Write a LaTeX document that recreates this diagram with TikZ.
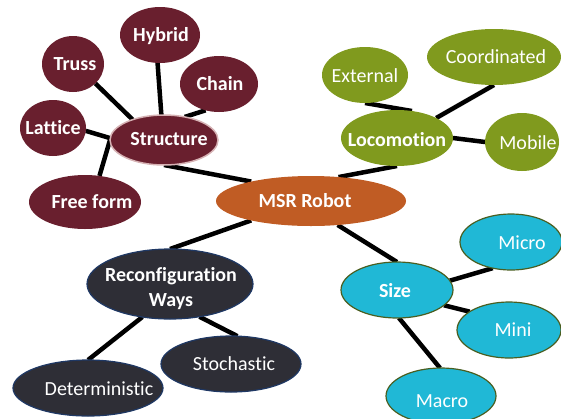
\documentclass[tikz,border=0pt]{standalone}
\usepackage{fontspec}
\setmainfont[Ligatures=NoCommon]{Carlito}
\usetikzlibrary{shapes.geometric}
\definecolor{strucred}{RGB}{105,31,46}
\definecolor{strucrim}{RGB}{214,178,180}
\definecolor{robotorange}{RGB}{192,92,36}
\definecolor{locogreen}{RGB}{128,154,30}
\definecolor{reconfdark}{RGB}{46,46,54}
\definecolor{reconfrim}{RGB}{31,56,100}
\definecolor{sizecyan}{RGB}{32,184,214}
\definecolor{sizerim}{RGB}{74,94,32}
\pgfdeclarelayer{background}
\pgfsetlayers{background,main}
\begin{document}
\begin{tikzpicture}[x=1pt,y=-1pt,
  blob/.style={ellipse,inner sep=0pt,outer sep=0pt},
  sz/.style 2 args={minimum width=#1pt,minimum height=#2pt},
  redblob/.style={blob,fill=strucred},
  orangeblob/.style={blob,fill=robotorange},
  greenblob/.style={blob,fill=locogreen},
  darkblob/.style={blob,fill=reconfdark,draw=reconfrim,line width=1.2pt},
  cyanblob/.style={blob,fill=sizecyan,draw=sizerim,line width=1.2pt},
  txt/.style={text=white,inner sep=0pt,text height=12.9pt,text depth=0pt,
    font=\fontsize{20}{25}\selectfont},
  btxt/.style={txt,font=\fontsize{20}{25}\selectfont\bfseries},
  link/.style={draw=black,line width=4.5pt}]
\useasboundingbox (0,0) rectangle (561,418);

% Structure branch
\node[redblob,sz={62}{56}] (truss) at (73,64) {};
\node[redblob,sz={80}{56}] (hybrid) at (160,35) {};
\node[redblob,sz={78}{56}] (chain) at (219,84) {};
\node[redblob,sz={66}{56}] (lattice) at (53,128) {};
\node[redblob,sz={108}{50},draw=strucrim,line width=1.5pt] (structure) at (164,140) {};
\node[redblob,sz={112}{54}] (freeform) at (85,202) {};

% Root
\node[orangeblob,sz={190}{50}] (msr) at (311,201) {};

% Locomotion branch
\node[greenblob,sz={86}{56}] (external) at (365,75) {};
\node[greenblob,sz={134}{56}] (coordinated) at (494,57) {};
\node[greenblob,sz={112}{56}] (locomotion) at (397,138) {};
\node[greenblob,sz={74}{58}] (mobile) at (522,142) {};

% Reconfiguration branch
\node[darkblob,sz={166}{70}] (reconfig) at (170,284) {};
\node[darkblob,sz={140}{56}] (stochastic) at (231,364) {};
\node[darkblob,sz={150}{56}] (deterministic) at (88,388) {};

% Size branch
\node[cyanblob,sz={112}{56}] (size) at (397,290) {};
\node[cyanblob,sz={102}{56}] (micro) at (511,242) {};
\node[cyanblob,sz={104}{56}] (mini) at (509,330) {};
\node[cyanblob,sz={110}{56}] (macro) at (441,396) {};

% Labels
\node[btxt] (truss-t) at (75,64) {Truss};
\node[btxt] (hybrid-t) at (161,35) {Hybrid};
\node[btxt] (chain-t) at (220,84) {Chain};
\node[btxt] (lattice-t) at (53,128) {Lattice};
\node[btxt] (structure-t) at (169,139) {Structure};
\node[btxt] (freeform-t) at (92,202) {Free form};
\node[btxt] (msr-t) at (305,201) {MSR Robot};
\node[txt] (external-t) at (365,76) {External};
\node[txt] (coordinated-t) at (496,57) {Coordinated};
\node[btxt] (locomotion-t) at (397,140) {Locomotion};
\node[txt] (mobile-t) at (528,143) {Mobile};
\node[text=white,inner sep=0pt,align=center,font=\fontsize{20}{25}\selectfont\bfseries]
  (reconfig-t) at (171,289) {Reconfiguration\\Ways};
\node[txt] (stochastic-t) at (234,364) {Stochastic};
\node[txt] (deterministic-t) at (99,389) {Deterministic};
\node[btxt] (size-t) at (395,291) {Size};
\node[txt] (micro-t) at (522,243) {Micro};
\node[txt] (mini-t) at (513,330) {Mini};
\node[txt] (macro-t) at (442,401) {Macro};

% Connectors, kept behind the bubbles
\begin{pgfonlayer}{background}
\draw[link] (structure.-90) -- (msr.162);
\draw[link] (truss.-41) -- (structure.147);
\draw[link] (hybrid.-95) -- (structure.96);
\draw[link] (chain.-117) -- (structure.48);
\draw[link] (lattice.-5) -- (structure.178);
\draw[link] (freeform.61) -- (structure.180);
\draw[link] (msr.41) -- (locomotion.-90);
\draw[link] (external.-90) -- (locomotion.61);
\draw[link] (coordinated.-90) -- (locomotion.27);
\draw[link] (locomotion.0) -- (mobile.180);
\draw[link] (msr.198) -- (reconfig.90);
\draw[link] (reconfig.230) -- (deterministic.90);
\draw[link] (reconfig.-48) -- (stochastic.77);
\draw[link] (msr.-42) -- (size.90);
\draw[link] (size.10) -- (micro.235);
\draw[link] (size.-18) -- (mini.155);
\draw[link] (size.-86) -- (macro.92);
\end{pgfonlayer}
\end{tikzpicture}
\end{document}
